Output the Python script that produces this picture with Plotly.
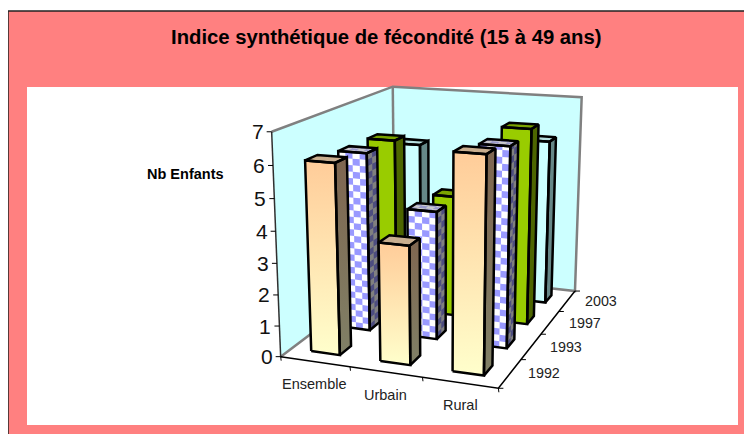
import numpy as np
import plotly.graph_objects as go

# ---- data ----
categories = ["Ensemble", "Urbain", "Rural"]
years = ["1992", "1993", "1997", "2003"]
v1992 = [6.05, 3.75, 6.65]
v1993 = [5.88, 4.2, 6.43]
v1997 = [5.85, 4.12, 6.54]
v2003 = [5.26, 3.5, 5.7]
z_ticks = [0, 1, 2, 3, 4, 5, 6, 7]
title_text = "Indice synthétique de fécondité (15 à 49 ans)"
z_title = "Nb Enfants"

# ---- camera: projective map fitted on the box corners ----
_world = [(0,0,0),(3,0,0),(3,4,0),(0,0,7),(0,4,7),(3,4,7)]
_screen = [(280.7,356.7),(498.3,388.3),(575,291),(271.7,131.7),(392.7,86.7),(581.7,97.3)]
_A, _b = [], []
for (X,Y,Z),(u,v) in zip(_world,_screen):
    _A.append([X,Y,Z,1,0,0,0,0,-u*X,-u*Y,-u*Z]); _b.append(u)
    _A.append([0,0,0,0,X,Y,Z,1,-v*X,-v*Y,-v*Z]); _b.append(v)
_h = np.linalg.lstsq(np.array(_A,float),np.array(_b,float),rcond=None)[0]

def proj(X,Y,Z):
    w = _h[8]*X+_h[9]*Y+_h[10]*Z+1
    return ((_h[0]*X+_h[1]*Y+_h[2]*Z+_h[3])/w, (_h[4]*X+_h[5]*Y+_h[6]*Z+_h[7])/w)

fig = go.Figure()

def poly(pts3, color=None, line="black", lw=2.5, gradient=None):
    p = [proj(*q) for q in pts3]
    if color is not None or gradient is not None:
        p = p+[p[0]]
    xs=[a for a,_ in p]; ys=[b for _,b in p]
    kw = dict(x=xs,y=ys,mode="lines",hoverinfo="skip",showlegend=False,
              line=dict(color=line if line else "rgba(0,0,0,0)",width=lw if line else 0))
    if gradient is not None:
        kw.update(fill="toself",fillgradient=dict(type="vertical",colorscale=gradient))
    elif color is not None:
        kw.update(fill="toself",fillcolor=color)
    fig.add_trace(go.Scatter(**kw))

def cells(quads,color):
    xs,ys=[],[]
    for q in quads:
        p=[proj(*a) for a in q]; p.append(p[0])
        xs+= [a for a,_ in p]+[None]; ys+=[b for _,b in p]+[None]
    fig.add_trace(go.Scatter(x=xs,y=ys,mode="lines",fill="toself",fillcolor=color,
        line=dict(width=0,color="rgba(0,0,0,0)"),hoverinfo="skip",showlegend=False))

# ---- walls ----
poly([(0,0,0),(0,4,0),(0,4,7),(0,0,7)],"#CCFFFF",None)
poly([(0,4,0),(3,4,0),(3,4,7),(0,4,7)],"#CCFFFF",None)
GR="#808080"
poly([(0,0,7),(0,4,7),(3,4,7),(3,4,0),(0,4,0),(0,0,0)],None,GR,2.5)
poly([(0,4,0),(0,4,7)],None,GR,2.5)
poly([(0,0,0),(0,0,7)],None,"#303030",1.5)
poly([(3,4,0),(3,0,0),(0,0,0)],None,"black",1.5)

# ticks
for z in z_ticks:
    a=proj(0,0,z)
    fig.add_shape(type="line",x0=a[0]-5,x1=a[0],y0=a[1],y1=a[1],line=dict(color="black",width=1))
    fig.add_annotation(x=a[0]-5,y=a[1],text=str(z),showarrow=False,xanchor="right",yanchor="middle",
        font=dict(size=21,color="#111111"),xshift=-1)
for i in range(4):
    a=proj(i,0,0)
    fig.add_shape(type="line",x0=a[0],x1=a[0]+0.5,y0=a[1],y1=a[1]+4,line=dict(color="black",width=1))
for i in range(5):
    a=proj(3,i,0)
    fig.add_shape(type="line",x0=a[0],x1=a[0]+5,y0=a[1],y1=a[1],line=dict(color="black",width=1))
cat_dx=[-1,0,1]; cat_dy=[22,23,22]
for i,c in enumerate(categories):
    a=proj(i+0.5,0,0)
    fig.add_annotation(x=a[0]+cat_dx[i],y=a[1]+cat_dy[i],text=c,showarrow=False,font=dict(size=14.5,color="#222222"))
yr_dx=[34,35,35,34]; yr_dy=[-1,0,0,0]
for i,y in enumerate(years):
    a=proj(3,i+0.5,0)
    fig.add_annotation(x=a[0]+yr_dx[i],y=a[1]+yr_dy[i],text=y,showarrow=False,font=dict(size=14.3,color="#222222"))

# ---- bars ----
WX=0.42; WY=0.36
ROW=0.21
def bar(ci,si,val,style):
    x0=ci+0.5-WX/2; x1=ci+0.5+WX/2; y0=si+0.5-WY/2; y1=si+0.5+WY/2
    front=[(x0,y0,0),(x1,y0,0),(x1,y0,val),(x0,y0,val)]
    side=[(x1,y0,0),(x1,y1,0),(x1,y1,val),(x1,y0,val)]
    top=[(x0,y0,val),(x1,y0,val),(x1,y1,val),(x0,y1,val)]
    if style=="peach":
        poly(side,None,None,0,gradient=[[0,"#808066"],[1,"#7F6650"]])
        poly(top,"#C8AE8F",None)
        poly(front,None,None,0,gradient=[[0,"#FFFFCC"],[1,"#FFCC99"]])
    elif style=="check":
        poly(side,"#808080",None); poly(top,"#CCCCCC",None); poly(front,"#FFFFFF",None)
        n=int(np.ceil(val/ROW))
        qf=[];qs=[];qt=[]
        for r in range(n):
            z0=r*ROW; z1=min(val,z0+ROW)
            for c in range(4):
                if (r+c)%2==0:
                    a=x0+(x1-x0)*c/4; b=x0+(x1-x0)*(c+1)/4
                    qf.append([(a,y0,z0),(b,y0,z0),(b,y0,z1),(a,y0,z1)])
            for c in range(2):
                if (r+c)%2==0:
                    a=y0+(y1-y0)*c/2; b=y0+(y1-y0)*(c+1)/2
                    qs.append([(x1,a,z0),(x1,b,z0),(x1,b,z1),(x1,a,z1)])
        for r in range(3):
            for c in range(4):
                if (r+c)%2==0:
                    a=x0+(x1-x0)*c/4; b=x0+(x1-x0)*(c+1)/4
                    e=y0+(y1-y0)*r/3; f=y0+(y1-y0)*(r+1)/3
                    qt.append([(a,e,val),(b,e,val),(b,f,val),(a,f,val)])
        cells(qf,"#9999FF"); cells(qs,"#4D4D80"); cells(qt,"#9999CC")
    elif style=="green":
        poly(side,"#4D6600",None); poly(top,"#7AA300",None); poly(front,"#99CC00",None)
    else:
        poly(side,"#668888",None); poly(top,"#B5DEDE",None); poly(front,"#CCFFFF",None)
    for f in (side,top,front):
        poly(f+[f[0]],None,"black",2.5)

styles=["peach","check","green","cyan"]
series=[v1992,v1993,v1997,v2003]
for si in [3,2,1,0]:
    for ci in range(3):
        bar(ci,si,series[si][ci],styles[si])

# ---- texts ----
fig.add_annotation(x=386.5,y=37,text="<b>%s</b>"%title_text,showarrow=False,font=dict(size=20.3,color="black"))
fig.add_annotation(x=185.5,y=174,text="<b>%s</b>"%z_title,showarrow=False,font=dict(size=14.5,color="black"))

# page body keeps an 8 px margin: the canvas covers 8..752 x 8..434
fig.update_layout(
    width=744,height=426,margin=dict(l=0,r=0,t=0,b=0),autosize=False,
    paper_bgcolor="white",plot_bgcolor="rgba(0,0,0,0)",
    font=dict(family="Liberation Sans"),showlegend=False,
    xaxis=dict(range=[8,752],visible=False,fixedrange=True),
    yaxis=dict(range=[434,8],visible=False,fixedrange=True),
    shapes=list(fig.layout.shapes)+[
        dict(type="rect",xref="x",yref="y",x0=8,x1=760,y0=11,y1=440,fillcolor="#FF8080",line=dict(color="#222222",width=1.5),layer="below"),
        dict(type="rect",xref="x",yref="y",x0=27,x1=738,y0=87,y1=425,fillcolor="white",line=dict(width=0),layer="below"),
    ],
)
fig.write_html("out.html")
